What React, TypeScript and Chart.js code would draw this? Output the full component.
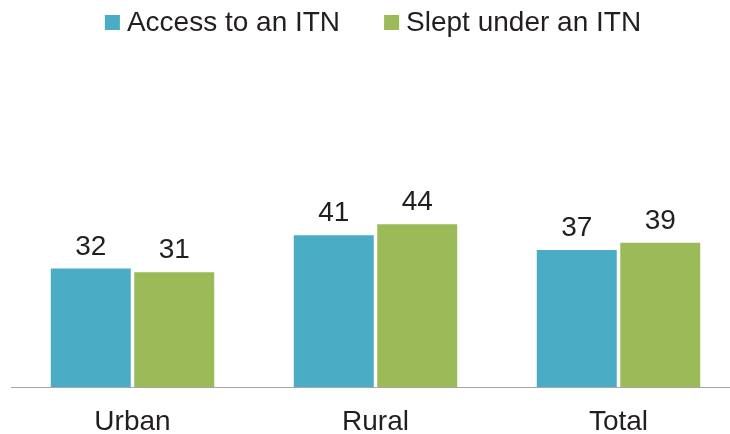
import React, { useEffect, useRef } from "react";
import { Chart, registerables } from "chart.js";

Chart.register(...registerables);

const categories = ["Urban", "Rural", "Total"];
const seriesLabels = ["Access to an ITN", "Slept under an ITN"];
const accessValues = [32, 41, 37];
const sleptValues = [31, 44, 39];
const seriesColors = ["#4BACC6", "#9BBB59"];

const FONT = '"Liberation Sans", Arial, Helvetica, sans-serif';
const TEXT_COLOR = "#231F20";

const valueLabelPlugin = {
  id: "valueLabels",
  afterDatasetsDraw(chart: any) {
    const ctx = chart.ctx;
    ctx.save();
    ctx.font = `28px ${FONT}`;
    ctx.fillStyle = TEXT_COLOR;
    ctx.textAlign = "center";
    ctx.textBaseline = "alphabetic";
    chart.data.datasets.forEach((ds: any, di: number) => {
      const meta = chart.getDatasetMeta(di);
      meta.data.forEach((bar: any, i: number) => {
        ctx.fillText(String(ds.data[i]), bar.x, bar.y - 14);
      });
    });
    ctx.restore();
  },
};

const customLegendPlugin = {
  id: "customLegend",
  afterDraw(chart: any) {
    const ctx = chart.ctx;
    ctx.save();
    ctx.font = `28px ${FONT}`;
    const box = 15;
    const boxGap = 7;
    const itemGap = 44;
    const items = chart.data.datasets.map((ds: any) => ({
      label: ds.label,
      color: ds.backgroundColor,
      w: ctx.measureText(ds.label).width,
    }));
    const total =
      items.reduce((s: number, it: any) => s + box + boxGap + it.w, 0) +
      itemGap * (items.length - 1);
    const center = (chart.chartArea.left + chart.chartArea.right) / 2 - 2.5;
    let x = center - total / 2;
    ctx.textBaseline = "alphabetic";
    ctx.textAlign = "left";
    items.forEach((it: any) => {
      ctx.fillStyle = it.color;
      ctx.fillRect(x, 15, box, box);
      ctx.fillStyle = TEXT_COLOR;
      ctx.fillText(it.label, x + box + boxGap, 31);
      x += box + boxGap + it.w + itemGap;
    });
    ctx.restore();
  },
};

export default function App() {
  const canvasRef = useRef<HTMLCanvasElement | null>(null);

  useEffect(() => {
    if (!canvasRef.current) return;
    const chart = new Chart(canvasRef.current, {
      type: "bar",
      data: {
        labels: categories,
        datasets: [
          {
            label: seriesLabels[0],
            data: accessValues,
            backgroundColor: seriesColors[0],
            categoryPercentage: 0.687,
            barPercentage: 0.958,
          },
          {
            label: seriesLabels[1],
            data: sleptValues,
            backgroundColor: seriesColors[1],
            categoryPercentage: 0.687,
            barPercentage: 0.958,
          },
        ],
      },
      options: {
        responsive: false,
        animation: false,
        devicePixelRatio: 1,
        layout: { padding: { left: 11, right: 0, top: 91, bottom: -22.6 } },
        plugins: {
          legend: { display: false },
          tooltip: { enabled: false },
        },
        scales: {
          x: {
            grid: { display: false, drawTicks: false },
            border: { display: true, color: "#A6A6A6", width: 1 },
            ticks: {
              color: TEXT_COLOR,
              font: { family: FONT, size: 28 },
              padding: 18,
            },
          },
          y: {
            display: false,
            min: 0,
            max: 80,
          },
        },
      },
      plugins: [valueLabelPlugin, customLegendPlugin],
    });
    return () => chart.destroy();
  }, []);

  return (
    <div
      style={{
        position: "absolute",
        left: 0,
        top: 0,
        width: 730,
        height: 434,
        overflow: "hidden",
        background: "#fff",
      }}
    >
      <canvas ref={canvasRef} width={740} height={434} style={{ display: "block" }} />
    </div>
  );
}
